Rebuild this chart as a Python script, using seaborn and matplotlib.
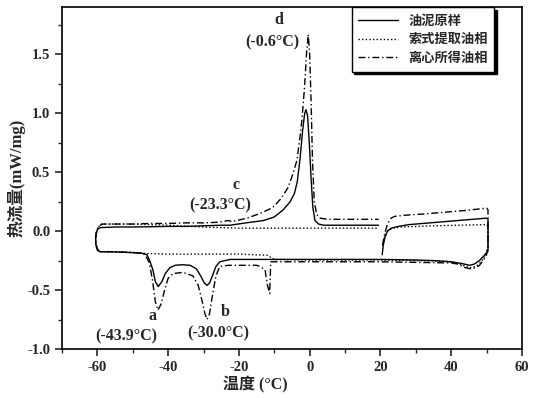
import numpy as np
import matplotlib
matplotlib.use("Agg")
import matplotlib.pyplot as plt
import seaborn as sns

# DSC loops (temperature in °C, heat flow in mW/mg)
raw_x = [20.5, 20.8, 21.3, 22.0, 23.0, 25.0, 28.0, 32.0, 38.0, 44.0, 50.0,
         50.4, 50.4, 50.4, 49.5, 48.0, 46.5, 45.2, 43.0, 40.0, 35.0, 30.0,
         20.0, 10.0, 0.0, -10.0, -15.0, -20.0, -22.5, -25.4, -26.5, -27.5,
         -28.3, -29.0, -29.8, -30.8, -32.0, -33.8, -36.0, -38.0, -39.5,
         -40.8, -41.8, -42.8, -43.6, -44.3, -45.2, -46.0, -47.0, -48.5,
         -52.0, -56.0, -59.3, -60.0, -60.4, -60.5, -60.3, -59.8, -59.0,
         -55.0, -50.0, -45.0, -40.0, -35.0, -30.0, -25.0, -22.5, -18.0,
         -13.0, -10.0, -7.5, -5.5, -4.3, -3.5, -2.7, -2.0, -1.4, -1.05,
         -0.6, -0.1, 0.4, 0.9, 1.5, 2.5, 4.0, 10.0, 15.0, 19.5]
raw_y = [-0.20, -0.12, -0.05, 0.0, 0.025, 0.04, 0.055, 0.065, 0.08, 0.095, 0.11,
         0.10, -0.05, -0.17, -0.20, -0.25, -0.28, -0.29, -0.275, -0.26, -0.25, -0.245,
         -0.24, -0.24, -0.24, -0.24, -0.24, -0.24, -0.24, -0.26, -0.30, -0.38,
         -0.44, -0.46, -0.44, -0.38, -0.32, -0.29, -0.285, -0.29, -0.31,
         -0.36, -0.43, -0.47, -0.43, -0.33, -0.25, -0.20, -0.19, -0.185,
         -0.18, -0.175, -0.175, -0.16, -0.12, -0.06, -0.01, 0.02, 0.03,
         0.035, 0.035, 0.037, 0.04, 0.04, 0.045, 0.05, 0.05, 0.07,
         0.09, 0.12, 0.18, 0.25, 0.32, 0.42, 0.62, 0.85, 1.0, 1.03,
         0.98, 0.75, 0.45, 0.20, 0.09, 0.06, 0.05, 0.05, 0.05, 0.05]

soxhlet_x = [20.6, 21.2, 22.0, 23.5, 26.0, 35.0, 50.0, 50.4, 50.4, 49.5, 48.5,
             47.0, 45.5, 44.0, 42.0, 38.0, 30.0, 20.0, 10.0, 0.0, -10.0, -12.0,
             -20.0, -30.0, -40.0, -46.0, -50.0, -56.0, -59.3, -60.0, -60.4,
             -60.5, -60.3, -59.8, -59.0, -50.0, -40.0, -30.0, -20.0, -10.0,
             0.0, 10.0, 19.5]
soxhlet_y = [-0.12, -0.05, 0.0, 0.025, 0.035, 0.045, 0.055, 0.04, -0.15, -0.21, -0.26,
             -0.30, -0.31, -0.30, -0.27, -0.255, -0.25, -0.245, -0.245, -0.245, -0.24, -0.205,
             -0.195, -0.195, -0.195, -0.19, -0.18, -0.175, -0.175, -0.16, -0.12,
             -0.06, -0.01, 0.03, 0.06, 0.06, 0.05, 0.035, 0.025, 0.025,
             0.025, 0.025, 0.025]

centri_x = [20.6, 21.2, 22.0, 23.0, 24.0, 27.0, 32.0, 38.0, 44.0, 50.0,
            50.4, 50.4, 50.0, 49.0, 48.0, 47.0, 45.5, 44.0, 42.0, 40.0, 30.0,
            20.0, 10.0, 0.0, -10.8, -11.0, -11.3, -12.0, -12.6, -14.0, -15.0,
            -20.0, -23.0, -25.4, -26.5, -27.5, -28.3, -29.0, -29.6, -30.5,
            -31.5, -33.0, -35.8, -38.6, -40.0, -41.0, -42.0, -42.9, -43.6,
            -44.4, -45.3, -46.5, -48.0, -52.0, -56.0, -59.3, -60.0, -60.4,
            -60.4, -60.0, -59.3, -58.4, -55.0, -50.0, -45.0, -40.0, -35.0,
            -30.0, -26.0, -24.0, -23.0, -22.0, -17.7, -14.0, -10.4, -8.0,
            -6.1, -4.8, -3.6, -2.8, -2.2, -1.5, -0.9, -0.4, 0.0, 0.4, 0.8,
            1.3, 2.0, 3.0, 5.0, 19.5]
centri_y = [-0.12, -0.02, 0.06, 0.11, 0.125, 0.135, 0.145, 0.16, 0.175, 0.195,
            0.18, -0.12, -0.20, -0.25, -0.29, -0.31, -0.32, -0.31, -0.28, -0.27, -0.265,
            -0.26, -0.26, -0.26, -0.26, -0.26, -0.53, -0.45, -0.33, -0.30, -0.29,
            -0.29, -0.29, -0.30, -0.38, -0.55, -0.70, -0.75, -0.70, -0.58,
            -0.46, -0.38, -0.35, -0.36, -0.40, -0.50, -0.62, -0.67, -0.60,
            -0.42, -0.27, -0.20, -0.185, -0.18, -0.175, -0.175, -0.15, -0.10,
            -0.04, 0.02, 0.05, 0.06, 0.06, 0.06, 0.065, 0.065, 0.07,
            0.07, 0.075, 0.085, 0.09, 0.08, 0.11, 0.15, 0.20, 0.28,
            0.37, 0.48, 0.60, 0.78, 0.94, 1.20, 1.50, 1.67, 1.50, 1.10, 0.60,
            0.25, 0.14, 0.11, 0.10, 0.10]

series_names = ["油泥原样", "索式提取油相", "离心所得油相"]

peak_letters = ["a", "b", "c", "d"]
peak_temps = ["(-43.9°C)", "(-30.0°C)", "(-23.3°C)", "(-0.6°C)"]

sns.set_style("ticks")
plt.rcParams['font.family'] = ['Liberation Serif', 'Noto Sans CJK SC']
plt.rcParams['font.weight'] = 'bold'
plt.rcParams['axes.linewidth'] = 1.2
plt.rcParams['axes.unicode_minus'] = False

fig = plt.figure(figsize=(5.38, 3.98), dpi=100)
ax = fig.add_axes([0.1152, 0.1231, 0.855, 0.859])

styles = ['-', (0, (1, 1.6)), (0, (5, 2, 1, 2))]
all_x = [raw_x, soxhlet_x, centri_x]
all_y = [raw_y, soxhlet_y, centri_y]
for xs, ys, ls in zip(all_x, all_y, styles):
    sns.lineplot(x=xs, y=ys, sort=False, estimator=None, ax=ax,
                 color='black', lw=1.0)
    ax.lines[-1].set_linestyle(ls)

ax.set_xlim(-70, 60)
ax.set_ylim(-1.0, 1.9)
ax.set_xticks([-60, -40, -20, 0, 20, 40, 60])
ax.set_xticks(np.arange(-70, 61, 10), minor=True)
ax.set_yticks([-1.0, -0.5, 0.0, 0.5, 1.0, 1.5])
ax.set_yticks(np.arange(-1.0, 1.9, 0.25), minor=True)
ax.yaxis.set_major_formatter(matplotlib.ticker.FormatStrFormatter('%.1f'))
ax.tick_params(which='major', direction='out', length=5, width=1.2,
               labelsize=10.5, top=False, right=False)
ax.tick_params(which='minor', direction='out', length=3, width=1.0,
               top=False, right=False)
for lab in ax.get_xticklabels() + ax.get_yticklabels():
    lab.set_fontweight('bold')
for sp in ax.spines.values():
    sp.set_visible(True)
    sp.set_color('black')

ax.set_xlabel("温度 (°C)", fontsize=11.5, fontweight='bold')
ax.xaxis.set_label_coords(0.42, -0.08)
ax.set_ylabel("热流量(mW/mg)", fontsize=12, fontweight='bold')
ax.yaxis.set_label_coords(-0.08, 0.5)

# peak labels
letter_pos = [(-44.3, -0.72), (-23.9, -0.69), (-20.8, 0.39), (-8.6, 1.79)]
temp_pos = [(-51.9, -0.89), (-25.9, -0.87), (-25.3, 0.22), (-10.6, 1.60)]
for letter, (lx, ly) in zip(peak_letters, letter_pos):
    ax.text(lx, ly, letter, ha='center', va='center', fontsize=11.5, fontweight='bold')
for temp, (tx, ty) in zip(peak_temps, temp_pos):
    ax.text(tx, ty, temp, ha='center', va='center', fontsize=11.5, fontweight='bold')

leg = ax.legend(ax.get_lines()[:3], series_names, loc='upper right',
                bbox_to_anchor=(0.94, 1.0), borderaxespad=0, fancybox=False,
                shadow={'color': 'black', 'alpha': 1}, framealpha=1,
                edgecolor='black', handlelength=3.0,
                labelspacing=0.35, borderpad=0.5,
                prop={'family': ['Noto Sans CJK SC'], 'size': 9.5})
leg.get_frame().set_linewidth(1.0)

fig.savefig("out.png", dpi=100)
